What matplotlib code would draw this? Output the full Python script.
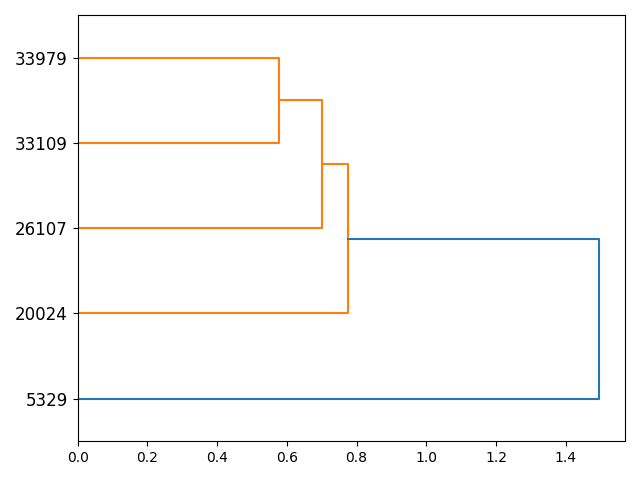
import matplotlib
matplotlib.use('Agg')
import matplotlib.pyplot as plt

# leaves from bottom to top
labels = ['5329', '20024', '26107', '33109', '33979']
# merges: (cluster a, cluster b, distance); new clusters get ids 5, 6, ...
merges = [(3, 4, 0.577), (2, 5, 0.700), (1, 6, 0.775), (0, 7, 1.495)]
colors = ['C1', 'C1', 'C1', 'C0']

fig, ax = plt.subplots(figsize=(6.4, 4.8), dpi=100)

pos = {i: 5 + 10 * i for i in range(len(labels))}
hgt = {i: 0.0 for i in range(len(labels))}
for k, (a, b, d) in enumerate(merges):
    ya, yb = pos[a], pos[b]
    ax.plot([hgt[a], d, d, hgt[b]], [ya, ya, yb, yb], color=colors[k])
    new = len(labels) + k
    pos[new] = (ya + yb) / 2
    hgt[new] = d

ax.set_yticks([pos[i] for i in range(len(labels))])
ax.set_yticklabels(labels, fontsize=12)
ax.set_ylim(0, 10 * len(labels))
ax.set_xlim(0, merges[-1][2] * 1.05)
plt.tight_layout()
plt.savefig('out.png')
